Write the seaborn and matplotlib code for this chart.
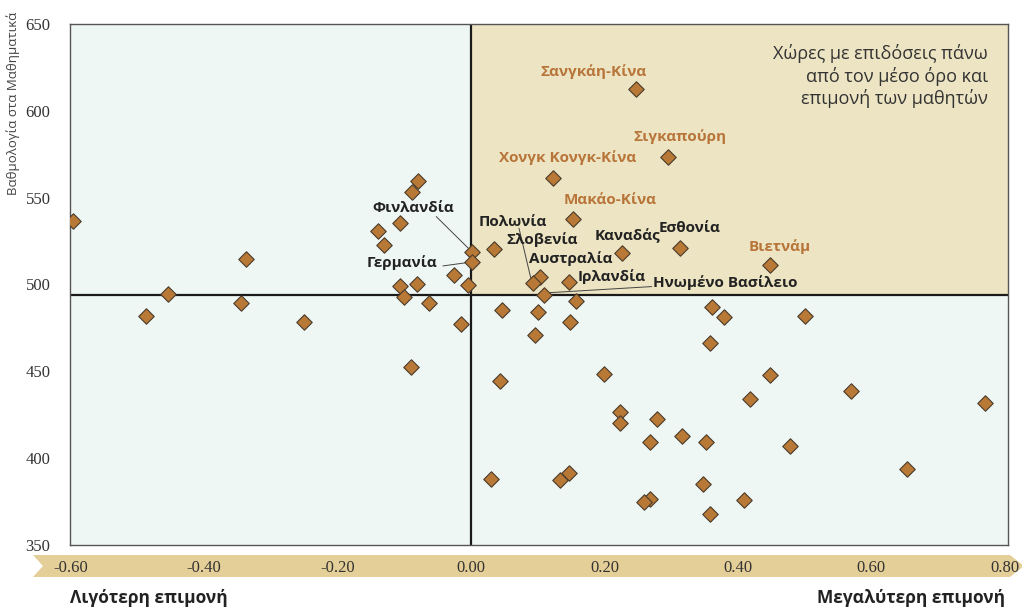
"""
PISA: persistence index vs. mathematics score
"""

import matplotlib
matplotlib.use("Agg")
import matplotlib.pyplot as plt
from matplotlib.patches import Polygon
import seaborn as sns
import pandas as pd

# Data
persistence = [
    -0.597, -0.337, -0.454, -0.487, -0.345, -0.250,
    -0.079, -0.089, -0.106, -0.139, -0.130, 0.001, 0.001, -0.026, -0.004,
    -0.107, -0.081, -0.101, -0.063, -0.015, -0.090,
    0.035, 0.226, 0.103, 0.093, 0.147, 0.109, 0.158, 0.047, 0.101, 0.149, 0.096,
    0.043, 0.200, 0.223, 0.223, 0.279, 0.268, 0.317, 0.352, 0.030, 0.147,
    0.134, 0.268, 0.259, 0.348, 0.358,
    0.362, 0.380, 0.501, 0.358, 0.449, 0.419, 0.569, 0.771, 0.478, 0.653, 0.410,
    0.153, 0.313, 0.449, 0.247, 0.296, 0.123,
]
math_score = [
    536.6, 514.7, 494.6, 481.9, 489.4, 478.4,
    559.8, 553.5, 535.3, 531.0, 522.8, 518.9, 513.2, 505.5, 499.7,
    499.2, 500.1, 493.0, 489.6, 477.1, 452.7,
    520.5, 518.0, 504.5, 500.7, 501.7, 494.0, 490.5, 485.3, 484.4, 478.6, 471.0,
    444.5, 448.7, 426.8, 420.3, 422.6, 409.2, 413.0, 409.4, 388.2, 391.3,
    387.5, 376.4, 374.6, 385.4, 367.9,
    486.9, 481.3, 482.1, 466.4, 447.8, 433.9, 438.5, 431.6, 406.9, 394.0, 376.1,
    537.7, 520.9, 511.3, 612.4, 573.3, 561.2,
]
oecd_mean = 494
x_ticks = [-0.6, -0.4, -0.2, 0.0, 0.2, 0.4, 0.6, 0.8]
y_ticks = [350, 400, 450, 500, 550, 600, 650]

# labels: text, x, y, colour group
labels = [
    ("Σανγκάη-Κίνα", 0.184, 622.4, "top"),
    ("Σιγκαπούρη", 0.313, 585.0, "top"),
    ("Χονγκ Κονγκ-Κίνα", 0.145, 572.9, "top"),
    ("Μακάο-Κίνα", 0.208, 548.7, "top"),
    ("Βιετνάμ", 0.463, 521.6, "top"),
    ("Φινλανδία", -0.087, 544.1, "ref"),
    ("Γερμανία", -0.103, 512.4, "ref"),
    ("Πολωνία", 0.063, 536.0, "ref"),
    ("Σλοβενία", 0.106, 525.6, "ref"),
    ("Αυστραλία", 0.150, 514.7, "ref"),
    ("Καναδάς", 0.235, 528.0, "ref"),
    ("Εσθονία", 0.328, 532.6, "ref"),
    ("Ιρλανδία", 0.211, 504.3, "ref"),
    ("Ηνωμένο Βασίλειο", 0.381, 500.9, "ref"),
]
leaders = [
    ((-0.052, 539.1), (-0.004, 520.9)),
    ((-0.042, 510.7), (-0.006, 512.6)),
    ((0.072, 532.4), (0.091, 501.6)),
    ((0.118, 495.3), (0.271, 498.8)),
]

df = pd.DataFrame({"persistence": persistence, "math": math_score})

sns.set_style("white")
plt.rcParams['font.family'] = ['Open Sans', 'DejaVu Sans']

W, H = 1022, 608
fig = plt.figure(figsize=(W / 100, H / 100), dpi=100)
ax = fig.add_axes([70 / W, 1 - 545 / H, (1008 - 70) / W, (545 - 24) / H])

x_min, x_max = -0.601, 0.805
ax.set_xlim(x_min, x_max)
ax.set_ylim(350, 650)
ax.set_facecolor("#eef7f4")

# upper-right quadrant
ax.fill_between([0, x_max], oecd_mean, 650, color="#ece4c2", zorder=0, linewidth=0)
ax.axhline(oecd_mean, color="#1a1a1a", lw=1.6, zorder=1)
ax.axvline(0, color="#1a1a1a", lw=1.6, zorder=1)

sns.scatterplot(data=df, x="persistence", y="math", marker="D", s=62,
                color="#b87936", edgecolor="#4a3b2c", linewidth=0.8, ax=ax, zorder=3)

for (x0, y0), (x1, y1) in leaders:
    ax.plot([x0, x1], [y0, y1], color="#444444", lw=0.7, zorder=2)

for text, tx, ty, grp in labels:
    col = "#b8753a" if grp == "top" else "#222222"
    ax.text(tx, ty, text, ha="center", va="center", fontsize=11,
            fontweight="bold", color=col, zorder=4)

ax.text(0.775, 620, "Χώρες με επιδόσεις πάνω\nαπό τον μέσο όρο και\nεπιμονή των μαθητών",
        ha="right", va="center", fontsize=13, color="#333333",
        linespacing=1.25, zorder=4)

ax.set_xticks(x_ticks)
ax.set_xticklabels([f"{v:.2f}" for v in x_ticks], family="Liberation Serif",
                   fontsize=12, color="#333333")
ax.set_yticks(y_ticks)
ax.set_yticklabels([str(v) for v in y_ticks], family="Liberation Serif",
                   fontsize=12, color="#333333")
ax.tick_params(axis="x", length=0, pad=11)
ax.tick_params(axis="y", length=0, pad=14)
ax.set_xlabel("")
ax.set_ylabel("")
for sp in ax.spines.values():
    sp.set_color("#555555")
    sp.set_linewidth(1.0)

# arrow band under the x axis
band_px = [(33, 555), (1010, 555), (1024, 566), (1010, 577), (33, 577), (43, 566)]
band = Polygon([(px / W, 1 - py / H) for px, py in band_px], closed=True,
               transform=fig.transFigure, facecolor="#e5cf98", edgecolor="none", zorder=-1)
fig.patches.append(band)

fig.text(13 / W, 1 - 12 / H, "Βαθμολογία στα Μαθηματικά", rotation=90,
         ha="center", va="top", fontsize=9.5, color="#444444")
fig.text(70 / W, 1 - 598 / H, "Λιγότερη επιμονή", ha="left", va="center",
         fontsize=12.5, fontweight="bold", color="#222222")
fig.text(1005 / W, 1 - 598 / H, "Μεγαλύτερη επιμονή", ha="right", va="center",
         fontsize=12.5, fontweight="bold", color="#222222")

fig.savefig("out.png", dpi=100)
